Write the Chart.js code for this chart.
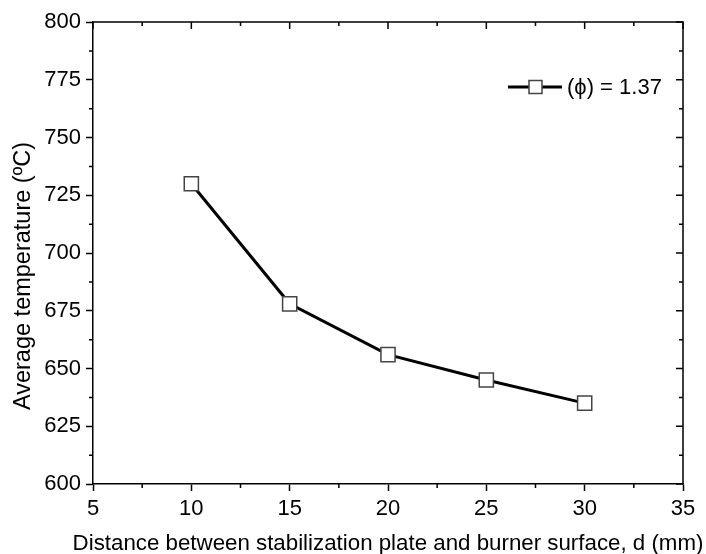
<!DOCTYPE html>
<html>
<head>
<meta charset="utf-8">
<script src="https://cdn.jsdelivr.net/npm/chart.js@4.4.1/dist/chart.umd.min.js"></script>
<style>
  html, body { margin: 0; padding: 0; background: #fff; }
  #wrap { width: 706px; height: 554px; }
</style>
</head>
<body>
<div id="wrap"><canvas id="tempChart" width="706" height="554"></canvas></div>
<script>
const distances = [10, 15, 20, 25, 30];
const avgTemps = [730, 678, 656, 645, 635];
const seriesLabel = '(\u03D5) = 1.37';
const xTitle = 'Distance between stabilization plate and burner surface, d (mm)';
const yTitle = 'Average temperature (\u00BAC)';

const FONT = 'Arial, "Liberation Sans", sans-serif';

// frame, minor ticks, inward ticks on top/right, axis titles and legend
const frameTicks = {
    id: 'frameTicks',
    afterDraw(chart) {
        const { ctx, chartArea: a, scales: { x, y } } = chart;
        ctx.save();
        ctx.strokeStyle = '#000';
        ctx.lineWidth = 1.5;
        ctx.beginPath();
        ctx.moveTo(a.left, a.top);
        ctx.lineTo(a.right, a.top);
        ctx.lineTo(a.right, a.bottom);
        ctx.stroke();

        ctx.beginPath();
        for (let v = 5; v <= 35; v += 2.5) {
            const px = x.getPixelForValue(v);
            const major = v % 5 === 0;
            const len = major ? 7 : 4;
            if (!major) {
                ctx.moveTo(px, a.bottom);
                ctx.lineTo(px, a.bottom + len);
            }
            ctx.moveTo(px, a.top);
            ctx.lineTo(px, a.top + len);
        }
        for (let v = 600; v <= 800; v += 12.5) {
            const py = y.getPixelForValue(v);
            const major = v % 25 === 0;
            const len = major ? 7 : 4;
            if (!major) {
                ctx.moveTo(a.left, py);
                ctx.lineTo(a.left - len, py);
            }
            ctx.moveTo(a.right, py);
            ctx.lineTo(a.right - len, py);
        }
        ctx.stroke();

        // axis titles (drawn here so they can run past the plot width)
        ctx.fillStyle = '#000';
        ctx.textAlign = 'center';
        ctx.textBaseline = 'alphabetic';
        ctx.font = '22.3px ' + FONT;
        ctx.fillText(xTitle, (a.left + a.right) / 2, a.bottom + 66);
        ctx.save();
        ctx.translate(a.left - 63, (a.top + a.bottom) / 2 + 23);
        ctx.rotate(-Math.PI / 2);
        ctx.font = '23.5px ' + FONT;
        ctx.fillText(yTitle, 0, 0);
        ctx.restore();

        // legend
        const ly = a.top + 65;
        const lx = a.right - 175;
        ctx.lineWidth = 3;
        ctx.beginPath();
        ctx.moveTo(lx, ly);
        ctx.lineTo(lx + 54, ly);
        ctx.stroke();
        ctx.fillStyle = '#fff';
        ctx.strokeStyle = '#444';
        ctx.lineWidth = 1.5;
        ctx.fillRect(lx + 21, ly - 6.5, 13, 13);
        ctx.strokeRect(lx + 21, ly - 6.5, 13, 13);
        ctx.fillStyle = '#000';
        ctx.font = '22px ' + FONT;
        ctx.textAlign = 'left';
        ctx.textBaseline = 'middle';
        ctx.fillText(seriesLabel, lx + 59, ly + 1);
        ctx.restore();
    }
};

const ctx = document.getElementById('tempChart').getContext('2d');

new Chart(ctx, {
    type: 'line',
    data: {
        datasets: [{
            label: seriesLabel,
            data: distances.map((d, i) => ({ x: d, y: avgTemps[i] })),
            borderColor: '#000',
            borderWidth: 3,
            pointStyle: 'rect',
            pointRadius: 10,
            pointHoverRadius: 10,
            pointBackgroundColor: '#fff',
            pointBorderColor: '#444',
            pointBorderWidth: 1.5,
            tension: 0,
        }],
    },
    options: {
        responsive: false,
        animation: false,
        layout: { padding: { left: 0, top: 22, right: 23, bottom: 0 } },
        plugins: {
            legend: { display: false },
            tooltip: { enabled: false },
        },
        scales: {
            x: {
                type: 'linear',
                min: 5,
                max: 35,
                afterFit: s => { s.height = 70; },
                ticks: {
                    stepSize: 5,
                    color: '#000',
                    padding: 5,
                    font: { family: FONT, size: 22 },
                },
                grid: {
                    drawOnChartArea: false,
                    drawTicks: true,
                    tickLength: 7,
                    tickWidth: 1.5,
                    color: '#000',
                },
                border: { color: '#000', width: 1.5 },
            },
            y: {
                min: 600,
                max: 800,
                afterFit: s => { s.width = 93; },
                ticks: {
                    stepSize: 25,
                    color: '#000',
                    padding: 5,
                    font: { family: FONT, size: 22 },
                },
                grid: {
                    drawOnChartArea: false,
                    drawTicks: true,
                    tickLength: 7,
                    tickWidth: 1.5,
                    color: '#000',
                },
                border: { color: '#000', width: 1.5 },
            },
        },
    },
    plugins: [frameTicks],
});
</script>
</body>
</html>
